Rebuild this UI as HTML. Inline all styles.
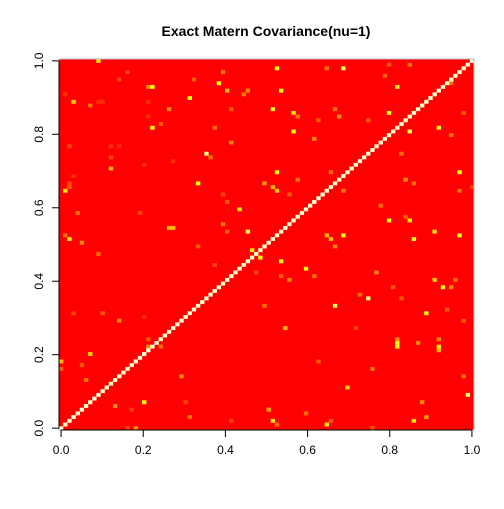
<!DOCTYPE html>
<html><head><meta charset="utf-8"><style>
body{margin:0;background:#fff}
svg text{font-family:"Liberation Sans",Arial,sans-serif}
</style></head><body>
<svg id="chart" width="504" height="504" viewBox="0 0 504 504">
<rect width="504" height="504" fill="#fff"/>
<text x="266" y="36" text-anchor="middle" font-size="14" font-weight="bold">Exact Matern Covariance(nu=1)</text>
<g id="cells"></g>
<g id="axes"></g>
</svg>
<script>
const nCells = 100;
const tickValues = [0, 0.2, 0.4, 0.6, 0.8, 1.0];
const tickLabels = ["0.0", "0.2", "0.4", "0.6", "0.8", "1.0"];
// off-diagonal highlighted cells: column index, row index, value (0..1)
const hotCols = [9,14,1,16,9,3,7,10,21,22,21,22,26,21,21,24,2,12,14,3,20,27,12,2,12,
 1,2,33,49,39,40,43,4,19,26,27,39,40,45,2,1,5,9,33,46,48,37,47,49,3,10,14,20,21,24,21,7,0,0,5,29,6,20,13,30,50,18,16,41,31,17,
 51,52,55,68,77,85,96,99,79,84,83,90,96,85,64,65,68,66,53,59,55,53,61,76,80,90,92,94,95,74,66,72,82,88,93,97,54,71,81,81,91,91,91,86,81,98,69,87,50,51,64,85,88,59,75,97,62,65,52,75,
 52,68,64,39,38,40,45,53,31,32,44,51,41,66,56,57,67,62,81,79,91,84,56,41,61,35,36,82,94,52,65,57,96,83,84,79,94,78,37,74,97];
const hotRows = [99,94,90,96,88,88,87,88,92,92,88,81,86,84,84,82,76,76,76,68,71,72,73,66,70,
 64,65,66,66,63,61,59,58,58,54,54,55,53,53,51,52,50,47,49,48,46,44,42,33,31,31,29,30,24,22,22,20,18,16,17,14,13,7,6,7,5,0,0,2,3,5,
 65,64,63,64,60,66,64,65,56,56,57,53,52,51,52,51,52,49,45,43,40,41,41,42,38,40,38,38,40,35,33,36,35,31,32,29,27,27,22,23,22,21,24,23,24,9,11,7,5,2,1,2,3,4,16,14,18,2,1,0,
 97,97,97,96,93,91,91,91,89,94,90,86,86,86,85,84,84,83,92,85,81,80,80,77,78,74,73,74,79,69,69,67,69,67,98,98,93,95,81,83,85];
const hotVals = [0.8,0.45,0.4,0.45,0.4,0.75,0.55,0.4,0.6,0.85,0.4,0.85,0.6,0.4,0.4,0.5,0.45,0.4,0.4,0.4,0.4,0.4,0.45,0.45,0.7,
 0.8,0.5,0.85,0.65,0.45,0.5,0.8,0.55,0.45,0.7,0.7,0.55,0.5,0.9,0.8,0.55,0.6,0.55,0.5,0.8,0.85,0.45,0.45,0.55,0.45,0.5,0.6,0.4,0.5,0.55,0.6,0.75,0.7,0.5,0.5,0.6,0.55,0.85,0.6,0.45,0.6,0.6,0.45,0.45,0.55,0.45,
 0.7,0.75,0.5,0.55,0.55,0.55,0.55,0.45,0.85,0.8,0.5,0.8,0.85,0.85,0.7,0.7,0.85,0.6,0.85,0.85,0.6,0.5,0.55,0.6,0.5,0.75,0.85,0.6,0.55,0.95,0.9,0.55,0.5,0.85,0.5,0.5,0.7,0.45,0.85,0.85,0.8,0.7,0.6,0.6,0.6,0.9,0.75,0.6,0.65,0.8,0.8,0.8,0.65,0.55,0.55,0.55,0.5,0.5,0.55,0.5,
 0.85,0.9,0.55,0.55,0.85,0.7,0.6,0.85,0.85,0.5,0.55,0.85,0.5,0.55,0.8,0.55,0.6,0.5,0.8,0.85,0.85,0.9,0.85,0.6,0.6,0.95,0.55,0.55,0.55,0.85,0.55,0.55,0.85,0.6,0.55,0.5,0.55,0.5,0.55,0.5,0.5];
const diagVal = 1;

const L = 59, R = 474, T = 59, B = 430;
const cw = (R - L) / nCells, ch = (B - T) / nCells;
function xCell(i){ return L + i * cw; }
function yCell(j){ return B - (j + 1) * ch; }
function xVal(v){ return L + cw/2 + v * (R - L - cw); }
function yVal(v){ return B - ch/2 - v * (B - T - ch); }
function color(v){
  if (v >= 0.99) return "#FFFFD0";
  const g = Math.max(0, Math.min(255, Math.round(255 * (v - 0.3) / 0.55)));
  const b = v > 0.85 ? Math.round(Math.min(200, (v - 0.85) / 0.15 * 200)) : 0;
  return "rgb(255," + g + "," + b + ")";
}
const NS = "http://www.w3.org/2000/svg";
const g = document.getElementById("cells");
const bg = document.createElementNS(NS, "rect");
bg.setAttribute("x", L); bg.setAttribute("y", T); bg.setAttribute("width", R - L); bg.setAttribute("height", B - T);
bg.setAttribute("fill", "#FF0000");


g.appendChild(bg);
function cell(i, j, v, name){
  const r = document.createElementNS(NS, "rect");
  r.setAttribute("x", xCell(i)); r.setAttribute("y", yCell(j));
  r.setAttribute("width", cw + 0.2); r.setAttribute("height", ch + 0.2);
  r.setAttribute("fill", color(v));
  
  
  g.appendChild(r);
}
for (let k = 0; k < hotCols.length; k++) cell(hotCols[k], hotRows[k], hotVals[k], 'heatmap-cell');
for (let i = 0; i < nCells; i++) cell(i, i, diagVal, 'diagonal-cell');
const border = document.createElementNS(NS, "rect");
border.setAttribute("x", L); border.setAttribute("y", T); border.setAttribute("width", R - L); border.setAttribute("height", B - T);
border.setAttribute("fill", "none"); border.setAttribute("stroke", "#bbb"); border.setAttribute("stroke-width", "1");


g.appendChild(border);

const ax = document.getElementById("axes");
function line(x1,y1,x2,y2,name){
  const l = document.createElementNS(NS, "line");
  l.setAttribute("x1",x1);l.setAttribute("y1",y1);l.setAttribute("x2",x2);l.setAttribute("y2",y2);
  l.setAttribute("stroke","#000");
  
  
  ax.appendChild(l);
}
function text(x,y,s,rot,name){
  const t = document.createElementNS(NS, "text");
  t.setAttribute("x",x);t.setAttribute("y",y);t.setAttribute("font-size","12");t.setAttribute("text-anchor","middle");
  if (rot) t.setAttribute("transform","rotate(-90 "+x+" "+y+")");
  t.textContent = s;
  
  
  ax.appendChild(t);
}
line(xVal(0), B, xVal(1), B, 'x-axis-line');
line(L, yVal(0), L, yVal(1), 'y-axis-line');
for (let k = 0; k < tickValues.length; k++){
  const x = xVal(tickValues[k]);
  line(x, B, x, B + 7, 'x-tick');
  text(x, B + 24, tickLabels[k], false, 'x-tick-label');
  const y = yVal(tickValues[k]);
  line(L - 7, y, L, y, 'y-tick');
  text(L - 16, y, tickLabels[k], true, 'y-tick-label');
}
</script>
</body></html>
